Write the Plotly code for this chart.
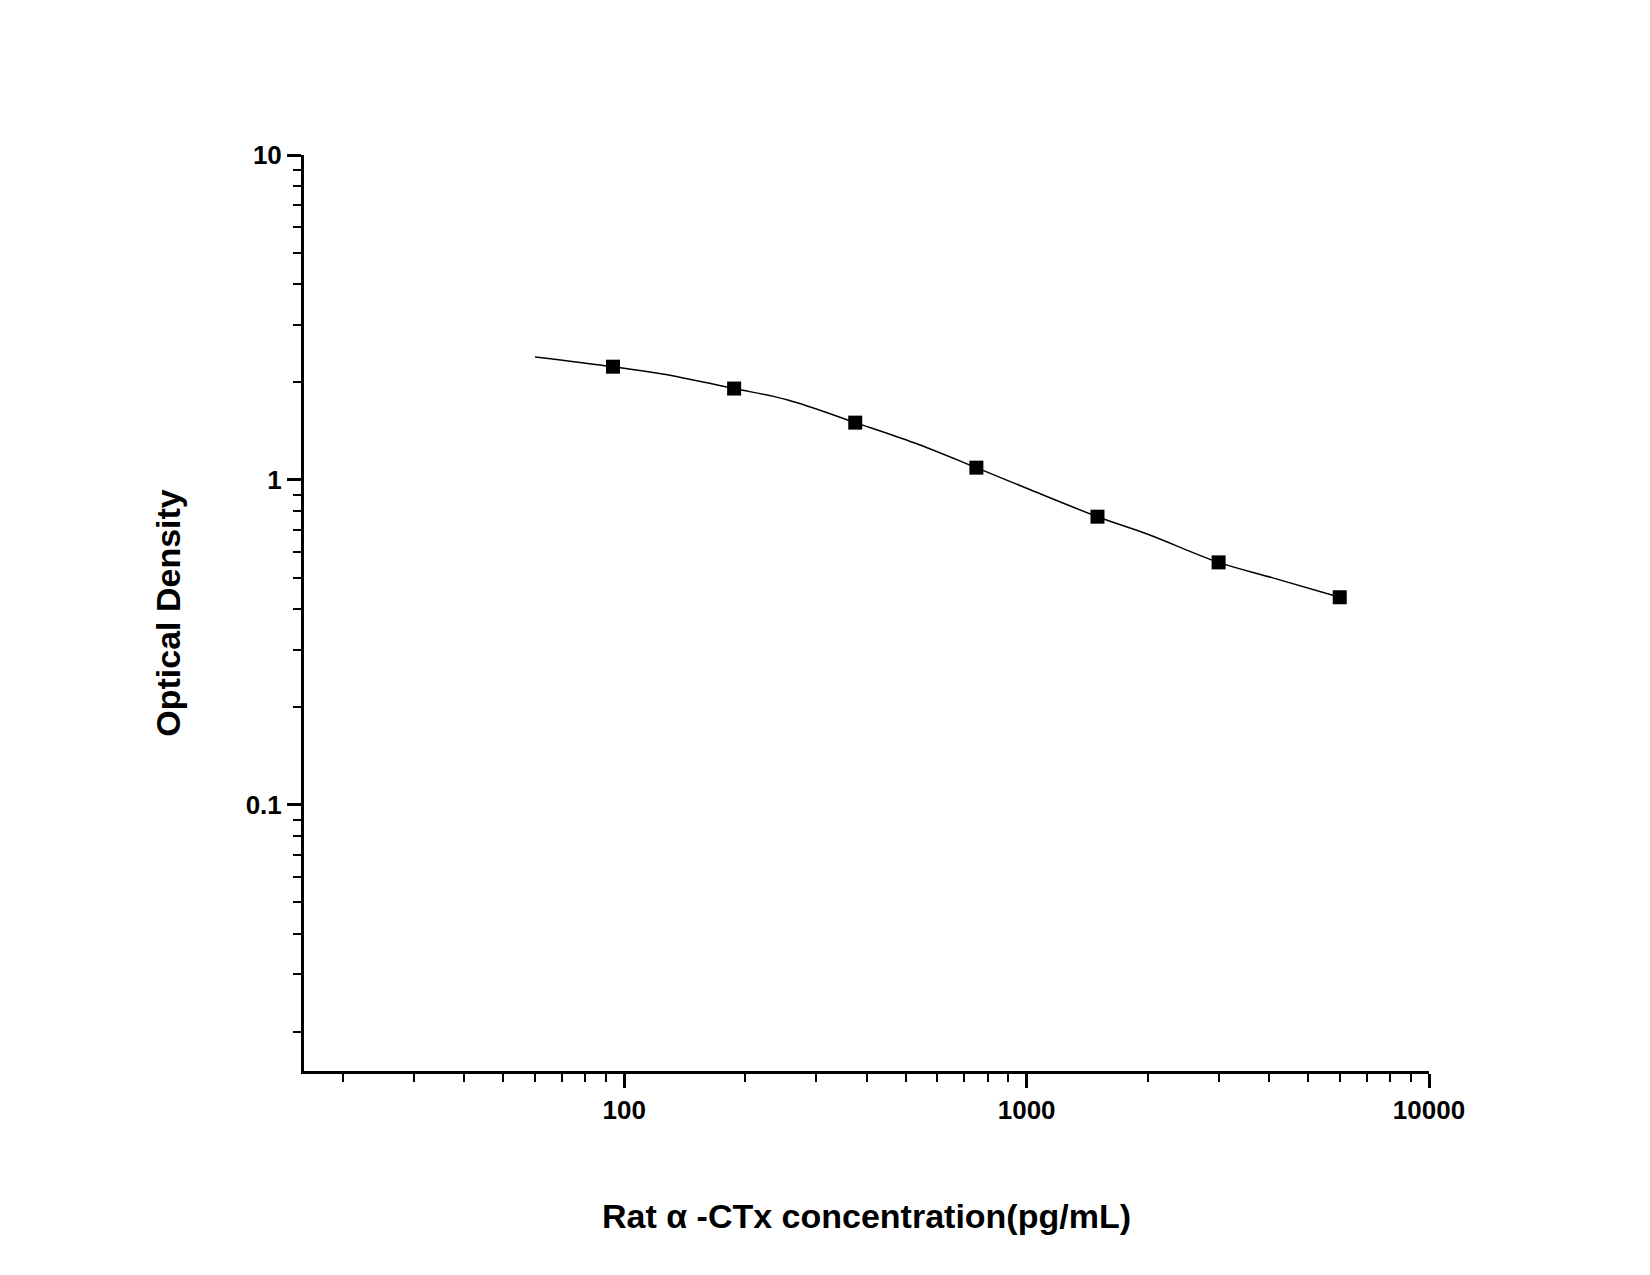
import plotly.graph_objects as go

# Standard points (pg/mL, OD)
conc = [93.75, 187.5, 375, 750, 1500, 3000, 6000]
od = [2.23, 1.91, 1.50, 1.09, 0.77, 0.557, 0.435]

# Fitted curve
curve_x = [60, 93.75, 123.5, 187.5, 255, 375, 525, 750, 1025, 1500, 2000, 3000, 4070, 6000]
curve_y = [2.39, 2.23, 2.12, 1.91, 1.76, 1.50, 1.30, 1.09, 0.93, 0.77, 0.68, 0.557, 0.50, 0.435]

fig = go.Figure()
fig.add_trace(go.Scatter(x=curve_x, y=curve_y, mode="lines",
                         line=dict(color="black", width=1.5, shape="spline")))
fig.add_trace(go.Scatter(x=conc, y=od, mode="markers",
                         marker=dict(symbol="square", color="black", size=14)))

axis_font = dict(family="Arial, Liberation Sans", size=26, color="black")
fig.update_layout(
    width=1650, height=1275, showlegend=False,
    plot_bgcolor="white", paper_bgcolor="white",
    margin=dict(l=296, r=229, t=147, b=212),
    font=dict(family="Arial, Liberation Sans", color="black"),
)
fig.update_xaxes(
    type="log", range=[1.204, 4.0], showgrid=False, zeroline=False,
    showline=True, linecolor="black", linewidth=3,
    ticks="outside", ticklen=14, tickwidth=3, tickcolor="black",
    tickvals=[100, 1000, 10000], ticktext=["100", "1000", "10000"],
    tickfont=dict(size=26, family="Arial, Liberation Sans", color="black", weight="bold"),
    minor=dict(ticks="outside", ticklen=8, tickwidth=2, tickcolor="black",
               tickvals=[20, 30, 40, 50, 60, 70, 80, 90, 200, 300, 400, 500, 600, 700, 800, 900,
                         2000, 3000, 4000, 5000, 6000, 7000, 8000, 9000], showgrid=False),
    title=dict(text="<b>Rat α -CTx concentration(pg/mL)</b>", font=dict(size=34, family="Arial, Liberation Sans"),
               standoff=80),
)
fig.update_yaxes(
    type="log", range=[-1.82, 1.0], showgrid=False, zeroline=False,
    showline=True, linecolor="black", linewidth=3,
    ticks="outside", ticklen=14, tickwidth=3, tickcolor="black",
    tickvals=[0.1, 1, 10], ticktext=["0.1", "1", "10"],
    tickfont=dict(size=26, family="Arial, Liberation Sans", color="black", weight="bold"),
    minor=dict(ticks="outside", ticklen=8, tickwidth=2, tickcolor="black",
               tickvals=[0.02, 0.03, 0.04, 0.05, 0.06, 0.07, 0.08, 0.09,
                         0.2, 0.3, 0.4, 0.5, 0.6, 0.7, 0.8, 0.9,
                         2, 3, 4, 5, 6, 7, 8, 9], showgrid=False),
    title=dict(text="<b>Optical Density</b>", font=dict(size=34, family="Arial, Liberation Sans"),
               standoff=55),
)
fig.write_html("out.html")
